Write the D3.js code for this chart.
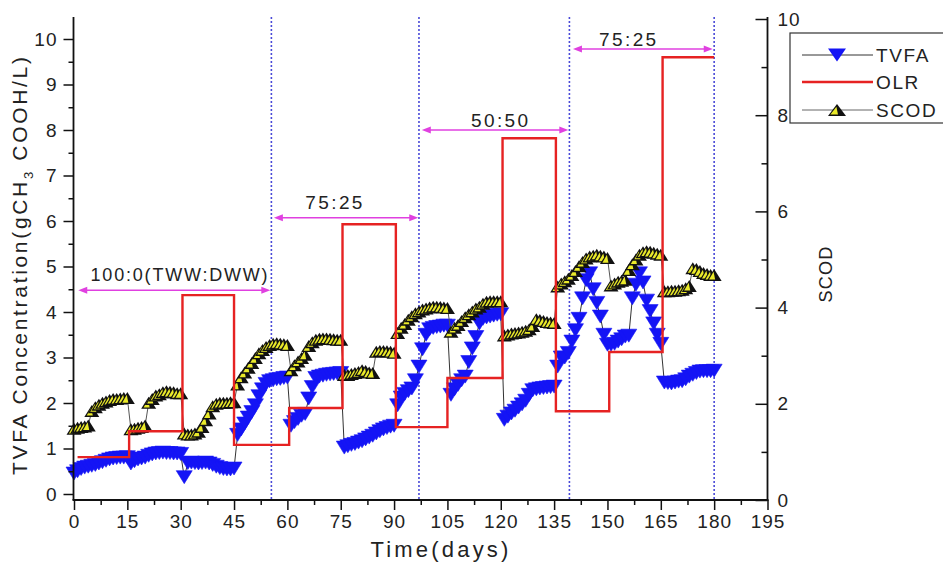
<!DOCTYPE html>
<html><head><meta charset="utf-8">
<script src="https://cdn.jsdelivr.net/npm/d3@7"></script>
<style>
body{margin:0;background:#fff}
text{font-family:"Liberation Sans",Arial,sans-serif;fill:#222}
</style>
</head><body>
<svg id="chart" width="943" height="563"></svg>
<script>
// ---- DATA (index of each value = day) ----
const tvfa = [
 0.45,0.50,0.55,0.58,0.60,0.62,0.64,0.67,0.70,0.73,0.76,0.78,0.79,0.80,0.80,0.81,
 0.67,0.72,0.76,0.78,0.80,0.84,0.87,0.89,0.90,0.91,0.90,0.90,0.89,0.89,0.88,
 0.37,0.68,0.69,0.68,0.67,0.68,0.69,0.67,0.64,0.60,0.57,0.55,0.54,0.54,0.56,
 1.30,1.42,1.55,1.68,1.80,1.95,2.15,2.30,2.42,2.48,2.50,2.52,2.53,2.55,2.56,
 1.50,1.58,1.65,1.72,1.76,2.10,2.35,2.55,2.58,2.60,2.62,2.63,2.64,2.65,2.66,
 1.02,1.05,1.08,1.10,1.13,1.16,1.20,1.24,1.28,1.33,1.38,1.42,1.45,1.48,1.50,
 1.95,2.12,2.20,2.26,2.32,2.50,2.80,3.18,3.50,3.62,3.65,3.67,3.68,3.70,3.70,
 2.18,2.30,2.40,2.50,2.58,2.90,3.20,3.45,3.75,3.85,3.88,3.90,3.92,3.94,3.95,
 1.63,1.70,1.77,1.83,1.90,1.97,2.05,2.18,2.28,2.30,2.32,2.33,2.34,2.35,2.36,
 2.80,3.00,3.00,3.10,3.35,3.60,3.85,4.30,4.70,4.85,4.50,4.20,3.90,3.50,3.28,
 3.28,3.30,3.35,3.40,3.46,3.48,4.30,4.60,4.85,4.65,4.25,4.02,3.75,3.50,3.30,
 2.45,2.44,2.43,2.45,2.47,2.48,2.52,2.58,2.62,2.66,2.69,2.70,2.70,2.70,2.71
];
const scod = [
 1.48,1.50,1.52,1.53,1.55,
 1.85,1.93,1.98,2.02,2.05,2.08,2.10,2.10,2.11,2.12,2.12,
 1.47,1.48,1.50,1.52,1.55,
 2.02,2.10,2.17,2.20,2.24,2.26,2.25,2.24,2.22,2.22,
 1.38,1.36,1.36,1.38,1.42,1.52,1.66,
 1.80,1.95,2.00,2.02,2.02,2.02,2.03,2.03,
 2.40,2.55,2.65,2.75,2.85,2.95,
 3.05,3.12,3.18,3.22,3.25,3.26,3.25,3.24,3.22,
 2.70,2.80,2.88,2.95,3.02,
 3.20,3.28,3.33,3.35,3.36,3.36,3.35,3.34,3.33,3.33,
 2.60,2.60,2.62,2.64,2.66,2.70,2.68,2.65,2.64,
 3.08,3.10,3.10,3.09,3.08,3.06,
 3.47,3.58,3.66,3.75,3.82,3.88,3.92,3.96,3.98,4.00,4.02,4.02,4.01,4.00,3.99,
 3.50,3.58,3.64,3.72,3.80,3.86,3.92,3.98,4.02,4.08,4.12,4.13,4.13,4.13,4.13,
 3.42,3.44,3.46,3.47,3.48,3.50,3.52,3.55,3.62,
 3.76,3.74,3.72,3.70,3.69,3.68,
 4.44,4.50,4.55,4.60,4.68,4.76,4.86,4.95,5.02,5.06,5.08,5.10,5.08,5.06,5.03,
 4.46,4.50,4.54,4.56,4.58,
 4.78,4.90,5.00,5.10,5.15,5.17,5.16,5.14,5.12,5.10,
 4.34,4.34,4.35,4.35,4.36,4.37,4.40,4.45,
 4.82,4.80,4.76,4.72,4.70,4.68,4.68
];
const olrDays   = [1, 15.5, 30.5, 45, 60.5, 75.5, 90.5, 105, 120.5, 135.5, 150.5, 165.5, 180];
const olrValues = [0.81, 1.38, 4.37, 1.08, 1.89, 5.93, 1.47, 2.55, 7.82, 1.82, 3.12, 9.60, 9.60];

const phaseBoundaries = [55.5, 97, 139.3, 180];
const phaseLabels = ["100:0(TWW:DWW)", "75:25", "50:50", "75:25"];
const phaseStart  = [1.2, 56.2, 97.8, 140.3];
const phaseEnd    = [55.2, 96.8, 139, 179.6];
const phaseLevel  = [4.48, 6.07, 8.0, 9.78];     // arrow heights (left axis units)
const phaseLabelX = [29.8, 73.4, 120, 156];      // label centres (days)

const xTicks = [0,15,30,45,60,75,90,105,120,135,150,165,180,195];
const xMinor = [7.5,22.5,37.5,52.5,67.5,82.5,97.5,112.5,127.5,142.5,157.5,172.5,187.5];
const yLeftTicks = [0,1,2,3,4,5,6,7,8,9,10];
const yLeftMinor = [0.5,1.5,2.5,3.5,4.5,5.5,6.5,7.5,8.5,9.5];
const yRightTicks = [0,2,4,6,8,10];
const yRightMinor = [1,3,5,7,9];
const seriesNames = ["TVFA","OLR","SCOD"];

// ---- SCALES ----
const svg = d3.select("#chart");
const plotTop = 17, plotBottom = 500;
const x  = d3.scaleLinear().domain([0,195]).range([74,767.5]);
const yL = d3.scaleLinear().domain([0,10]).range([494,39]);
const yR = d3.scaleLinear().domain([0,10]).range([500,19]);

const BLUE = "#1414f5", RED = "#e62222", MAG = "#e040e0", VL = "#4a4ad8";

// ---- phase divider lines ----
svg.append("g").selectAll("line").data(phaseBoundaries).join("line")
  .attr("x1", d=>x(d)).attr("x2", d=>x(d)).attr("y1", plotTop).attr("y2", plotBottom)
  .attr("stroke", VL).attr("stroke-width", 1.6).attr("stroke-dasharray","2,2");

// ---- TVFA ----
const tvfaPts = tvfa.map((v,i)=>[i,v]);
svg.append("path").datum(tvfaPts)
  .attr("d", d3.line().x(d=>x(d[0])).y(d=>yL(d[1])))
  .attr("fill","none").attr("stroke","#333").attr("stroke-width",1);
function tvfaSym(w,h){return `M${-w/2},${-h/2}L${w/2},${-h/2}L0,${h/2}Z`;}
svg.append("g").selectAll("path").data(tvfaPts).join("path")
  .attr("transform", d=>`translate(${x(d[0])},${yL(d[1])})`)
  .attr("d", tvfaSym(16,13)).attr("fill", BLUE).attr("stroke", BLUE).attr("stroke-width",0.6);

// ---- SCOD ----
const scodPts = scod.map((v,i)=>[i,v]);
svg.append("path").datum(scodPts)
  .attr("d", d3.line().x(d=>x(d[0])).y(d=>yR(d[1])))
  .attr("fill","none").attr("stroke","#555").attr("stroke-width",1);
function scodMarker(g,w,h){
  g.append("path").attr("d",`M${-w/2},${h/2}L0,${-h/2}L${w/2},${h/2}Z`).attr("fill","#111");
  g.append("path").attr("d",`M${-w/2+2.4},${h/2-1.4}L${-0.6},${-h/2+2.8}L${1},${h/2-1.4}Z`).attr("fill","#eaea2a");
}
svg.append("g").selectAll("g").data(scodPts).join("g")
  .attr("transform", d=>`translate(${x(d[0])},${yR(d[1])})`)
  .each(function(){scodMarker(d3.select(this),15,12);});

// ---- OLR ----
const olrPts = olrDays.map((d,i)=>[d, olrValues[i]]);
svg.append("path").datum(olrPts)
  .attr("d", d3.line().x(d=>x(d[0])).y(d=>yL(d[1])).curve(d3.curveStepAfter))
  .attr("fill","none").attr("stroke",RED).attr("stroke-width",2.4);

// ---- phase arrows ----
const arr = svg.append("g");
phaseLabels.forEach((lab,i)=>{
  const y = yL(phaseLevel[i]), x1 = x(phaseStart[i]), x2 = x(phaseEnd[i]);
  arr.append("line").attr("x1",x1+4).attr("x2",x2-4).attr("y1",y).attr("y2",y)
    .attr("stroke",MAG).attr("stroke-width",1.5);
  arr.append("path").attr("d",`M${x1},${y}L${x1+9},${y-3.5}L${x1+9},${y+3.5}Z`).attr("fill",MAG);
  arr.append("path").attr("d",`M${x2},${y}L${x2-9},${y-3.5}L${x2-9},${y+3.5}Z`).attr("fill",MAG);
  arr.append("text").attr("x", x(phaseLabelX[i])).attr("y", y - (i<2 ? 9 : 3))
    .attr("text-anchor","middle").attr("font-size", i===0 ? 18 : 19).attr("letter-spacing", i===0 ? 1.8 : 2.4)
    .attr("fill","#333").text(lab);
});

// ---- AXES ----
const axisStyle = g => {
  g.selectAll(".domain").remove();
  g.selectAll("line").attr("stroke","#111").attr("stroke-width",1.5);
  g.selectAll("text").attr("font-size",19).attr("letter-spacing",1).attr("fill","#222");
};
svg.append("g").attr("transform",`translate(0,${plotBottom})`)
  .call(d3.axisBottom(x).tickValues(xTicks).tickSize(10).tickPadding(5)).call(axisStyle);
svg.append("g").attr("transform",`translate(0,${plotBottom})`)
  .call(d3.axisBottom(x).tickValues(xMinor).tickSize(5).tickFormat("")).call(axisStyle);
svg.append("g").attr("transform",`translate(${x(0)-0.5},0)`)
  .call(d3.axisLeft(yL).tickValues(yLeftTicks).tickSize(10).tickPadding(6)).call(axisStyle);
svg.append("g").attr("transform",`translate(${x(0)-0.5},0)`)
  .call(d3.axisLeft(yL).tickValues(yLeftMinor).tickSize(5).tickFormat("")).call(axisStyle);
svg.append("g").attr("transform",`translate(${x(195)},0)`)
  .call(d3.axisRight(yR).tickValues(yRightTicks).tickSize(-12).tickPadding(10)).call(axisStyle);
svg.append("g").attr("transform",`translate(${x(195)},0)`)
  .call(d3.axisRight(yR).tickValues(yRightMinor).tickSize(-6).tickFormat("")).call(axisStyle);
// axis lines
svg.append("line").attr("x1",x(0)-0.5).attr("x2",x(0)-0.5).attr("y1",plotTop).attr("y2",plotBottom).attr("stroke","#111").attr("stroke-width",1.8);
svg.append("line").attr("x1",x(195)).attr("x2",x(195)).attr("y1",plotTop).attr("y2",plotBottom).attr("stroke","#111").attr("stroke-width",1.8);
svg.append("line").attr("x1",x(0)-1.5).attr("x2",x(195)+1).attr("y1",plotBottom).attr("y2",plotBottom).attr("stroke","#111").attr("stroke-width",1.8);

// ---- AXIS TITLES ----
svg.append("text").attr("x",441).attr("y",557).attr("text-anchor","middle")
  .attr("font-size",22).attr("letter-spacing",3.2).text("Time(days)");
const lt = svg.append("text").attr("transform","translate(27,266) rotate(-90)")
  .attr("text-anchor","middle").attr("font-size",21).attr("textLength",418).attr("lengthAdjust","spacing");
lt.append("tspan").text("TVFA Concentration(gCH");
lt.append("tspan").attr("font-size",13).attr("dy",6).text("3");
lt.append("tspan").attr("dy",-6).text(" COOH/L)");
svg.append("text").attr("transform","translate(832,274) rotate(-90)")
  .attr("text-anchor","middle").attr("font-size",18).attr("letter-spacing",1.2).text("SCOD");

// ---- LEGEND ----
const lg = svg.append("g");
lg.append("rect").attr("x",790).attr("y",33).attr("width",170).attr("height",90)
  .attr("fill","#fff").attr("stroke","#333").attr("stroke-width",1.2);
const ly = [55, 82, 110];
seriesNames.forEach((n,i)=>{
  lg.append("line").attr("x1",802).attr("x2",873).attr("y1",ly[i]).attr("y2",ly[i])
    .attr("stroke", i===1 ? RED : (i===0 ? "#333" : "#666")).attr("stroke-width", i===1 ? 2.4 : 1);
  if(i===0) lg.append("path").attr("transform",`translate(837,${ly[i]})`).attr("d",tvfaSym(18,13)).attr("fill",BLUE);
  if(i===2) scodMarker(lg.append("g").attr("transform",`translate(837,${ly[i]})`),18,12);
  lg.append("text").attr("x",876).attr("y",ly[i]).attr("dy","0.36em").attr("font-size",19)
    .attr("letter-spacing",1.6).text(n);
});
</script>
</body></html>
